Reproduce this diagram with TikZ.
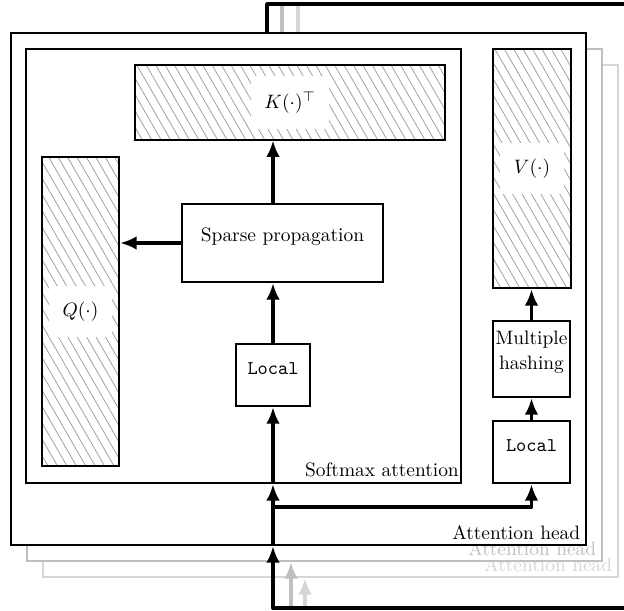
\documentclass[tikz,border=0pt]{standalone}
\usetikzlibrary{arrows.meta}
\usetikzlibrary{patterns.meta, fit}

\begin{document}
\begin{tikzpicture}[x=0.515pt, y=-0.515pt,
		box/.style={draw, line width=1.1pt, inner sep=0pt, fill=white},
		hatch/.style={draw, line width=1.1pt, inner sep=0pt, pattern={Lines[angle=-60, distance=4.2pt, line width=0.4pt]}, pattern color=gray!75},
		tag/.style={fill=white, inner xsep=7pt, inner ysep=8pt},
		wire/.style={line width=2pt, line join=round},
		flow/.style={-{Latex[length=8.5pt, width=7pt]}, line width=2pt, line join=round}]
				\useasboundingbox (0,0) rectangle (624,611);
				\coordinate (out) at (624,4);
				\coordinate (in) at (624,608);
				\coordinate (fork) at (273,507);
				% heads further back
				\node[box, draw=gray!32, fit={(43,65) (618,577)}] (head3) {};
				\node[anchor=south east, text=gray!32] at (head3.south east) {Attention head};
				\coordinate (tap3) at (298,65);
				\coordinate (in3) at (305,608);
				\draw[wire, gray!32] (tap3) |- (out);
				\draw[flow, gray!32] (in3) -- (in3 |- head3.south);
				\node[box, draw=gray!50, fit={(27,49) (602,561)}] (head2) {};
				\node[anchor=south east, text=gray!50] at (head2.south east) {Attention head};
				\coordinate (tap2) at (282,49);
				\coordinate (in2) at (291,608);
				\draw[wire, gray!50] (tap2) |- (out);
				\draw[flow, gray!50] (in2) -- (in2 |- head2.south);
				% front head
				\node[box, fit={(11,33) (586,545)}] (head) {};
				\node[anchor=south east] at (head.south east) {Attention head};
				\coordinate (tap) at (267,33);
				\draw[wire] (tap) |- (out);
				\node[box, fit={(26,49) (461,483)}] (soft) {};
				\node[anchor=south east, inner xsep=1.5pt] at (soft.south east) {Softmax attention};
				\node[hatch, fit={(135,65) (445,140)}] (K) {};
				\node[tag] at (K) {$K(\cdot)^\top$};
				\node[hatch, fit={(42,157) (119,466)}] (Q) {};
				\node[tag] at (Q) {$Q(\cdot)$};
				\node[hatch, fit={(493,49) (571,288)}] (V) {};
				\node[tag] at (V) {$V(\cdot)$};
				\node[box, fit={(182,204) (383,282)}] (sparse) {Sparse propagation};
				\node[box, fit={(236,344) (310,406)}] (localA) {\texttt{Local}};
				\node[box, fit={(493,321) (570,397)}, align=center] (hash) {Multiple\\[1pt]hashing};
				\node[box, fit={(493,421) (570,483)}] (localB) {\texttt{Local}};
				% connectors
				\draw[flow] (localA.north) -- (localA |- sparse.south);
				\draw[flow] (localA |- sparse.north) -- (localA |- K.south);
				\draw[flow] (sparse.west) -- (sparse.west -| Q.east);
				\draw[flow] (localB.north) -- (hash.south);
				\draw[flow] (hash.north) -- (hash |- V.south);
				\draw[flow] (in) -| (localA |- head.south);
				\draw[flow] (localA |- head.south) -- (localA |- soft.south);
				\draw[flow] (localA |- soft.south) -- (localA.south);
				\draw[flow] (fork) -| (localB.south);
			\end{tikzpicture}
\end{document}
